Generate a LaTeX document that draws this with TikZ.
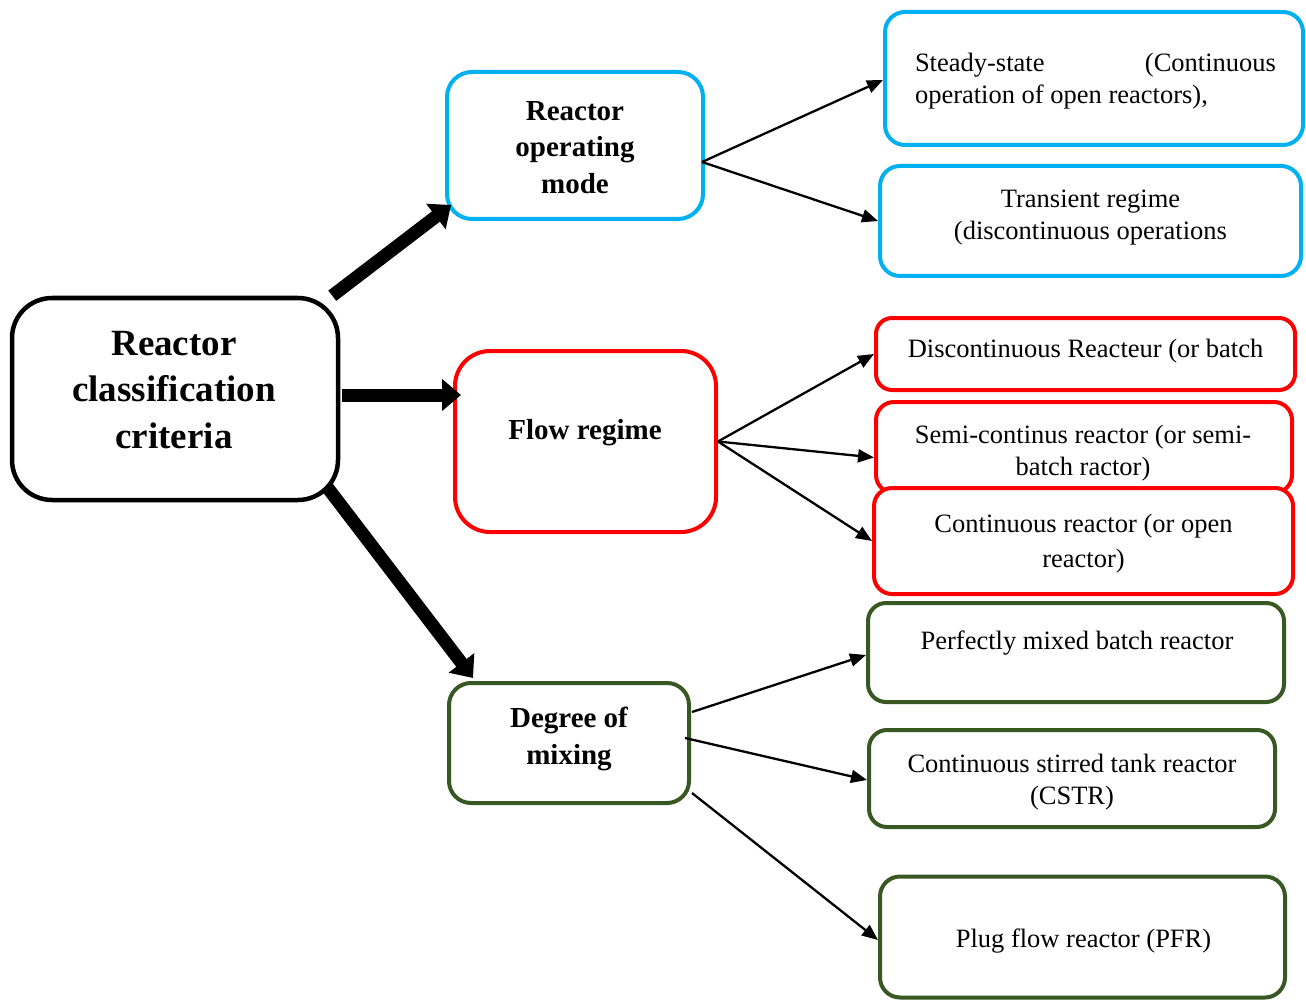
\documentclass[tikz,border=0pt]{standalone}
\usepackage{fontspec}
\setmainfont{Liberation Serif}
\usetikzlibrary{arrows.meta}
\definecolor{cyanb}{RGB}{0,176,240}
\definecolor{redb}{RGB}{255,0,0}
\definecolor{greenb}{RGB}{56,87,35}
\begin{document}
\begin{tikzpicture}[x=1pt,y=-1pt,
  box/.style={draw, line width=4pt, inner sep=0pt, fill=white},
  cbox/.style={box, draw=cyanb},
  rbox/.style={box, draw=redb},
  gbox/.style={box, draw=greenb},
  kbox/.style={box, draw=black, line width=4.5pt},
  bigtext/.style={align=center, inner sep=0pt, font=\fontsize{37}{46.5}\selectfont\bfseries},
  midtext/.style={align=center, inner sep=0pt, font=\fontsize{29}{36.5}\selectfont\bfseries},
  smalltext/.style={align=center, inner sep=0pt, font=\fontsize{26.5}{32.5}\selectfont},
  fatarrow/.style={line width=13pt, -{Triangle[width=31pt,length=19pt]}},
  thinarrow/.style={line width=2.3pt, -{Triangle[width=13pt,length=16pt]}}]
\useasboundingbox (0,0) rectangle (1306,1000);

% main boxes
\node[kbox, rounded corners=40pt, minimum width=326pt, minimum height=202pt] (main) at (175,399) {};
\node[bigtext] (main-t) at (174,390) {Reactor\\classification\\criteria};

\node[cbox, rounded corners=25pt, minimum width=256pt, minimum height=147pt] (rom) at (575,145.5) {};
\node[midtext] (rom-t) at (575,147.5) {Reactor\\operating\\mode};

\node[rbox, rounded corners=35pt, minimum width=261pt, minimum height=181pt] (flow) at (585.5,441.5) {};
\node[midtext] (flow-t) at (585,433) {Flow regime};

\node[gbox, rounded corners=22pt, minimum width=240pt, minimum height=120pt] (dom) at (569,743) {};
\node[midtext] (dom-t) at (569,739) {Degree of\\mixing};

% right boxes
\node[cbox, rounded corners=20pt, minimum width=418pt, minimum height=133pt] (ss) at (1094,78.5) {};
\node[smalltext, align=left] (ss-t) at (1095.5,81) {\makebox[361pt][s]{Steady-state\hfill(Continuous}\\operation of open reactors),};

\node[cbox, rounded corners=20pt, minimum width=421pt, minimum height=110pt] (tr) at (1090.5,221) {};
\node[smalltext] (tr-t) at (1090.5,217.5) {Transient regime\\(discontinuous operations};

\node[rbox, rounded corners=16pt, minimum width=419pt, minimum height=72pt] (dc) at (1085.5,354) {};
\node[smalltext] (dc-t) at (1085.5,351) {Discontinuous Reacteur (or batch};

\node[rbox, rounded corners=18pt, minimum width=416pt, minimum height=91pt] (sc) at (1084,447.5) {};
\node[rbox, rounded corners=18pt, minimum width=419pt, minimum height=106pt] (cr) at (1083.5,541) {};
\node[smalltext] (sc-t) at (1083,453) {Semi-continus reactor (or semi-\\batch ractor)};
\node[smalltext, font=\fontsize{26.5}{35}\selectfont] (cr-t) at (1083.5,543.5) {Continuous reactor (or open\\reactor)};

\node[gbox, rounded corners=18pt, minimum width=416pt, minimum height=99pt] (pm) at (1076,652.5) {};
\node[smalltext] (pm-t) at (1077,643) {Perfectly mixed batch reactor};

\node[gbox, rounded corners=18pt, minimum width=406pt, minimum height=97pt] (cstr) at (1072,778.5) {};
\node[smalltext] (cstr-t) at (1072,782) {Continuous stirred tank reactor\\(CSTR)};

\node[gbox, rounded corners=20pt, minimum width=405pt, minimum height=121pt] (pfr) at (1082.5,937) {};
\node[smalltext] (pfr-t) at (1083.5,941) {Plug flow reactor (PFR)};

% thick arrows
\draw[fatarrow] ([xshift=-8pt]main.north east) -- ([xshift=6pt,yshift=16pt]rom.south west);
\draw[fatarrow] ([xshift=2pt,yshift=4pt]main.east) -- ([xshift=8pt,yshift=46.5pt]flow.west);
\draw[fatarrow] ([xshift=-13pt,yshift=15pt]main.south east) -- ([xshift=26pt,yshift=3pt]dom.north west);

% thin arrows
\draw[thinarrow] ([xshift=-3pt,yshift=-16.5pt]rom.east) -- ([yshift=-1.5pt]ss.west);
\draw[thinarrow] ([xshift=-3pt,yshift=-16.5pt]rom.east) -- (tr.west);
\draw[thinarrow] (flow.east) -- (dc.west);
\draw[thinarrow] (flow.east) -- ([yshift=-10pt]sc.west);
\draw[thinarrow] (flow.east) -- (cr.west);
\draw[thinarrow] ([xshift=1pt,yshift=31pt]dom.east) -- ([yshift=-2.5pt]pm.west);
\draw[thinarrow] ([xshift=-6pt,yshift=5pt]dom.east) -- ([yshift=-1.5pt]cstr.west);
\draw[thinarrow] ([xshift=1pt,yshift=-50pt]dom.east) -- ([yshift=-3pt]pfr.west);
\end{tikzpicture}
\end{document}
